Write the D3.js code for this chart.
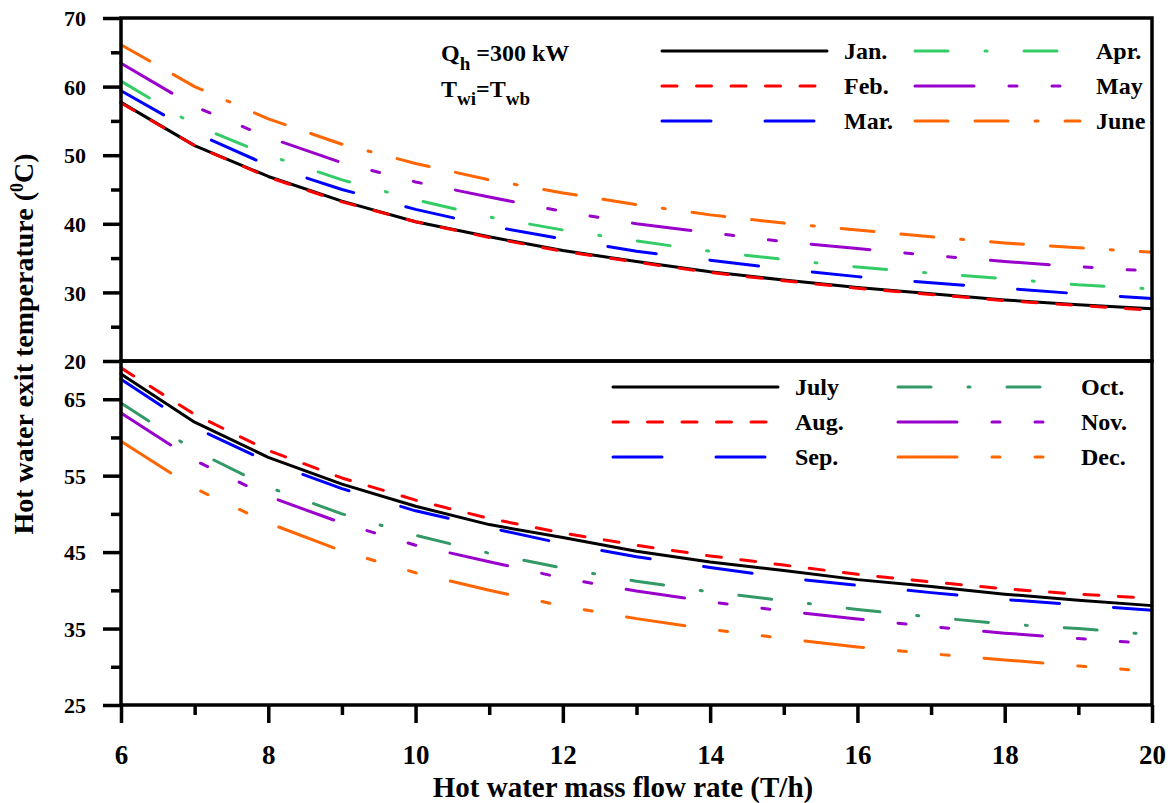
<!DOCTYPE html>
<html>
<head>
<meta charset="utf-8">
<script src="https://cdn.jsdelivr.net/npm/d3@7"></script>
<style>
  html, body { margin: 0; padding: 0; background: #fff; }
  svg text { font-family: "Liberation Serif", "Times New Roman", serif; font-weight: bold; fill: #000; }
</style>
</head>
<body>
<svg id="chart" width="1176" height="803"></svg>
<script>
// ---------- data ----------
const flowRate = [6, 7, 8, 9, 10, 11, 12, 13, 14, 15, 16, 17, 18, 19, 20];

const jan  = [57.7, 51.4, 46.9, 43.3, 40.3, 38.1, 36.1, 34.5, 33.0, 31.8, 30.7, 29.8, 28.9, 28.2, 27.6];
const feb  = [57.6, 51.4, 46.8, 43.2, 40.3, 38.0, 36.0, 34.4, 32.9, 31.7, 30.6, 29.7, 28.8, 28.1, 27.4];
const mar  = [59.4, 53.3, 48.5, 45.0, 42.1, 39.7, 37.8, 36.0, 34.7, 33.4, 32.3, 31.4, 30.6, 29.8, 29.1];
const apr  = [60.8, 54.4, 50.0, 46.4, 43.5, 41.0, 39.1, 37.5, 36.0, 34.8, 33.7, 32.8, 32.0, 31.1, 30.5];
const may  = [63.4, 57.1, 52.6, 48.9, 46.1, 43.9, 41.8, 40.0, 38.7, 37.4, 36.4, 35.4, 34.5, 33.75, 33.1];
const june = [66.1, 60.0, 55.3, 51.6, 48.8, 46.4, 44.5, 42.8, 41.3, 40.1, 39.1, 38.1, 37.2, 36.5, 35.85];

const july = [68.3, 62.0, 57.4, 53.9, 51.0, 48.6, 46.9, 45.1, 43.7, 42.6, 41.4, 40.5, 39.5, 38.7, 38.0];
const aug  = [69.1, 63.0, 58.3, 54.7, 51.8, 49.4, 47.5, 45.9, 44.5, 43.3, 42.1, 41.1, 40.2, 39.5, 38.95];
const sep  = [67.6, 61.3, 56.8, 53.3, 50.4, 48.2, 46.1, 44.4, 43.0, 41.65, 40.65, 39.7, 38.8, 38.1, 37.4];
const oct  = [64.5, 58.3, 53.5, 50.0, 47.2, 44.85, 42.9, 41.2, 39.8, 38.65, 37.5, 36.5, 35.6, 35.0, 34.2];
const nov  = [63.2, 57.0, 52.3, 48.8, 45.9, 43.75, 41.6, 39.9, 38.5, 37.3, 36.25, 35.25, 34.4, 33.7, 33.0];
const dec  = [59.5, 53.35, 48.8, 45.15, 42.3, 40.0, 37.95, 36.3, 34.9, 33.7, 32.6, 31.7, 30.9, 30.1, 29.4];

const topNames = ["Jan.", "Feb.", "Mar.", "Apr.", "May", "June"];
const botNames = ["July", "Aug.", "Sep.", "Oct.", "Nov.", "Dec."];

const xMajorTicks = [6, 8, 10, 12, 14, 16, 18, 20];
const xMinorTicks = [7, 9, 11, 13, 15, 17, 19];
const yTopMajor = [20, 30, 40, 50, 60, 70];
const yTopMinor = [25, 35, 45, 55, 65];
const yBotMajor = [25, 35, 45, 55, 65];
const yBotMinor = [30, 40, 50, 60];

// ---------- styles ----------
const colors = {
  black: "#000000", red: "#ff0000", blue: "#0000ff",
  lgreen: "#33cc66", purple: "#9900cc", orange: "#ff6600", dgreen: "#339966"
};
const dash = {
  solid: null,
  dashed: "15,19.5",
  long: "49,54",
  dashDot: "33,37,2,37",
  longDotDot: "59,35,8,35,8,35",
  dashDashDot: "33,27,33,27,3,27"
};

const topSeries = [
  { name: topNames[0], values: jan,  color: colors.black,  dash: dash.solid },
  { name: topNames[1], values: feb,  color: colors.red,    dash: dash.dashed },
  { name: topNames[2], values: mar,  color: colors.blue,   dash: dash.long },
  { name: topNames[3], values: apr,  color: colors.lgreen, dash: dash.dashDot },
  { name: topNames[4], values: may,  color: colors.purple, dash: dash.longDotDot },
  { name: topNames[5], values: june, color: colors.orange, dash: dash.dashDashDot }
];
const botSeries = [
  { name: botNames[0], values: july, color: colors.black,  dash: dash.solid },
  { name: botNames[1], values: aug,  color: colors.red,    dash: dash.dashed },
  { name: botNames[2], values: sep,  color: colors.blue,   dash: dash.long },
  { name: botNames[3], values: oct,  color: colors.dgreen, dash: dash.dashDot },
  { name: botNames[4], values: nov,  color: colors.purple, dash: dash.longDotDot },
  { name: botNames[5], values: dec,  color: colors.orange, dash: dash.longDotDot }
];

// ---------- layout ----------
const L = 121, R = 1152, T = 18, M = 361, B = 705;
const svg = d3.select("#chart");

const x = d3.scaleLinear().domain([6, 20]).range([L, R]);
const yTop = d3.scaleLinear().domain([20, 70]).range([M, T]);
const yBot = d3.scaleLinear().domain([25, 70]).range([B, M]);

function drawLines(series, y) {
  const line = d3.line().x((d, i) => x(flowRate[i])).y(d => y(d)).curve(d3.curveLinear);
  svg.append("g").selectAll("path").data(series).join("path")
    .attr("d", d => line(d.values))
    .attr("fill", "none")
    .attr("stroke", d => d.color)
    .attr("stroke-width", 3)
    .attr("stroke-linecap", "round")
    .attr("stroke-linejoin", "round")
    .attr("stroke-dasharray", d => d.dash);
}

function yAxis(scale, major, minor) {
  const gMaj = svg.append("g").attr("transform", `translate(${L},0)`)
    .call(d3.axisLeft(scale).tickValues(major).tickSize(18).tickPadding(16));
  gMaj.select(".domain").remove();
  gMaj.selectAll(".tick line").attr("stroke", "#000").attr("stroke-width", 3.5);
  gMaj.selectAll(".tick text").attr("font-size", 22).attr("x", -35).attr("dy", "0.35em");
  const gMin = svg.append("g").attr("transform", `translate(${L},0)`)
    .call(d3.axisLeft(scale).tickValues(minor).tickSize(10).tickFormat(""));
  gMin.select(".domain").remove();
  gMin.selectAll(".tick line").attr("stroke", "#000").attr("stroke-width", 3.5);
}

// lines
drawLines(topSeries, yTop);
drawLines(botSeries, yBot);

// frames
svg.append("rect").attr("x", L).attr("y", T).attr("width", R - L).attr("height", M - T)
  .attr("fill", "none").attr("stroke", "#000").attr("stroke-width", 3.5);
svg.append("rect").attr("x", L).attr("y", M).attr("width", R - L).attr("height", B - M)
  .attr("fill", "none").attr("stroke", "#000").attr("stroke-width", 3.5);

// axes
yAxis(yTop, yTopMajor, yTopMinor);
yAxis(yBot, yBotMajor, yBotMinor);

const gx = svg.append("g").attr("transform", `translate(0,${B})`)
  .call(d3.axisBottom(x).tickValues(xMajorTicks).tickSize(18).tickFormat(d3.format("d")));
gx.select(".domain").remove();
gx.selectAll(".tick line").attr("stroke", "#000").attr("stroke-width", 3.5);
gx.selectAll(".tick text").attr("font-size", 27).attr("y", 59).attr("dy", 0);
const gxm = svg.append("g").attr("transform", `translate(0,${B})`)
  .call(d3.axisBottom(x).tickValues(xMinorTicks).tickSize(10).tickFormat(""));
gxm.select(".domain").remove();
gxm.selectAll(".tick line").attr("stroke", "#000").attr("stroke-width", 3.5);

// axis titles
svg.append("text").attr("x", 623).attr("y", 797)
  .attr("text-anchor", "middle").attr("font-size", 29)
  .text("Hot water mass flow rate (T/h)");

const yt = svg.append("text").attr("transform", "translate(33,344) rotate(-90)")
  .attr("text-anchor", "middle").attr("font-size", 28);
yt.append("tspan").text("Hot water exit temperature (");
yt.append("tspan").attr("font-size", 18).attr("dy", -10).text("0");
yt.append("tspan").attr("dy", 10).text("C)");

// annotation
const a1 = svg.append("text").attr("x", 441).attr("y", 61).attr("font-size", 24);
a1.append("tspan").text("Q");
a1.append("tspan").attr("font-size", 19).attr("dy", 9).text("h");
a1.append("tspan").attr("dy", -9).text(" =300 kW");
const a2 = svg.append("text").attr("x", 441).attr("y", 97).attr("font-size", 24);
a2.append("tspan").text("T");
a2.append("tspan").attr("font-size", 19).attr("dy", 8).text("wi");
a2.append("tspan").attr("dy", -8).text("=T");
a2.append("tspan").attr("font-size", 19).attr("dy", 8).text("wb");

// legends
function legend(series, cols, rows) {
  series.forEach((s, i) => {
    const c = Math.floor(i / 3), r = i % 3;
    const lx = cols[c].line, ty = rows[r];
    svg.append("line").attr("x1", lx).attr("x2", lx + 165).attr("y1", ty).attr("y2", ty)
      .attr("stroke", s.color).attr("stroke-width", 3).attr("stroke-linecap", "round")
      .attr("stroke-dasharray", s.dash);
    svg.append("text").attr("x", cols[c].text).attr("y", ty).attr("dy", "0.33em")
      .attr("font-size", 24).text(s.name);
  });
}
legend(topSeries, [{ line: 662, text: 844 }, { line: 915, text: 1096 }], [51, 86, 121]);
legend(botSeries, [{ line: 613, text: 795 }, { line: 898, text: 1081 }], [387, 422, 457]);
</script>
</body>
</html>
